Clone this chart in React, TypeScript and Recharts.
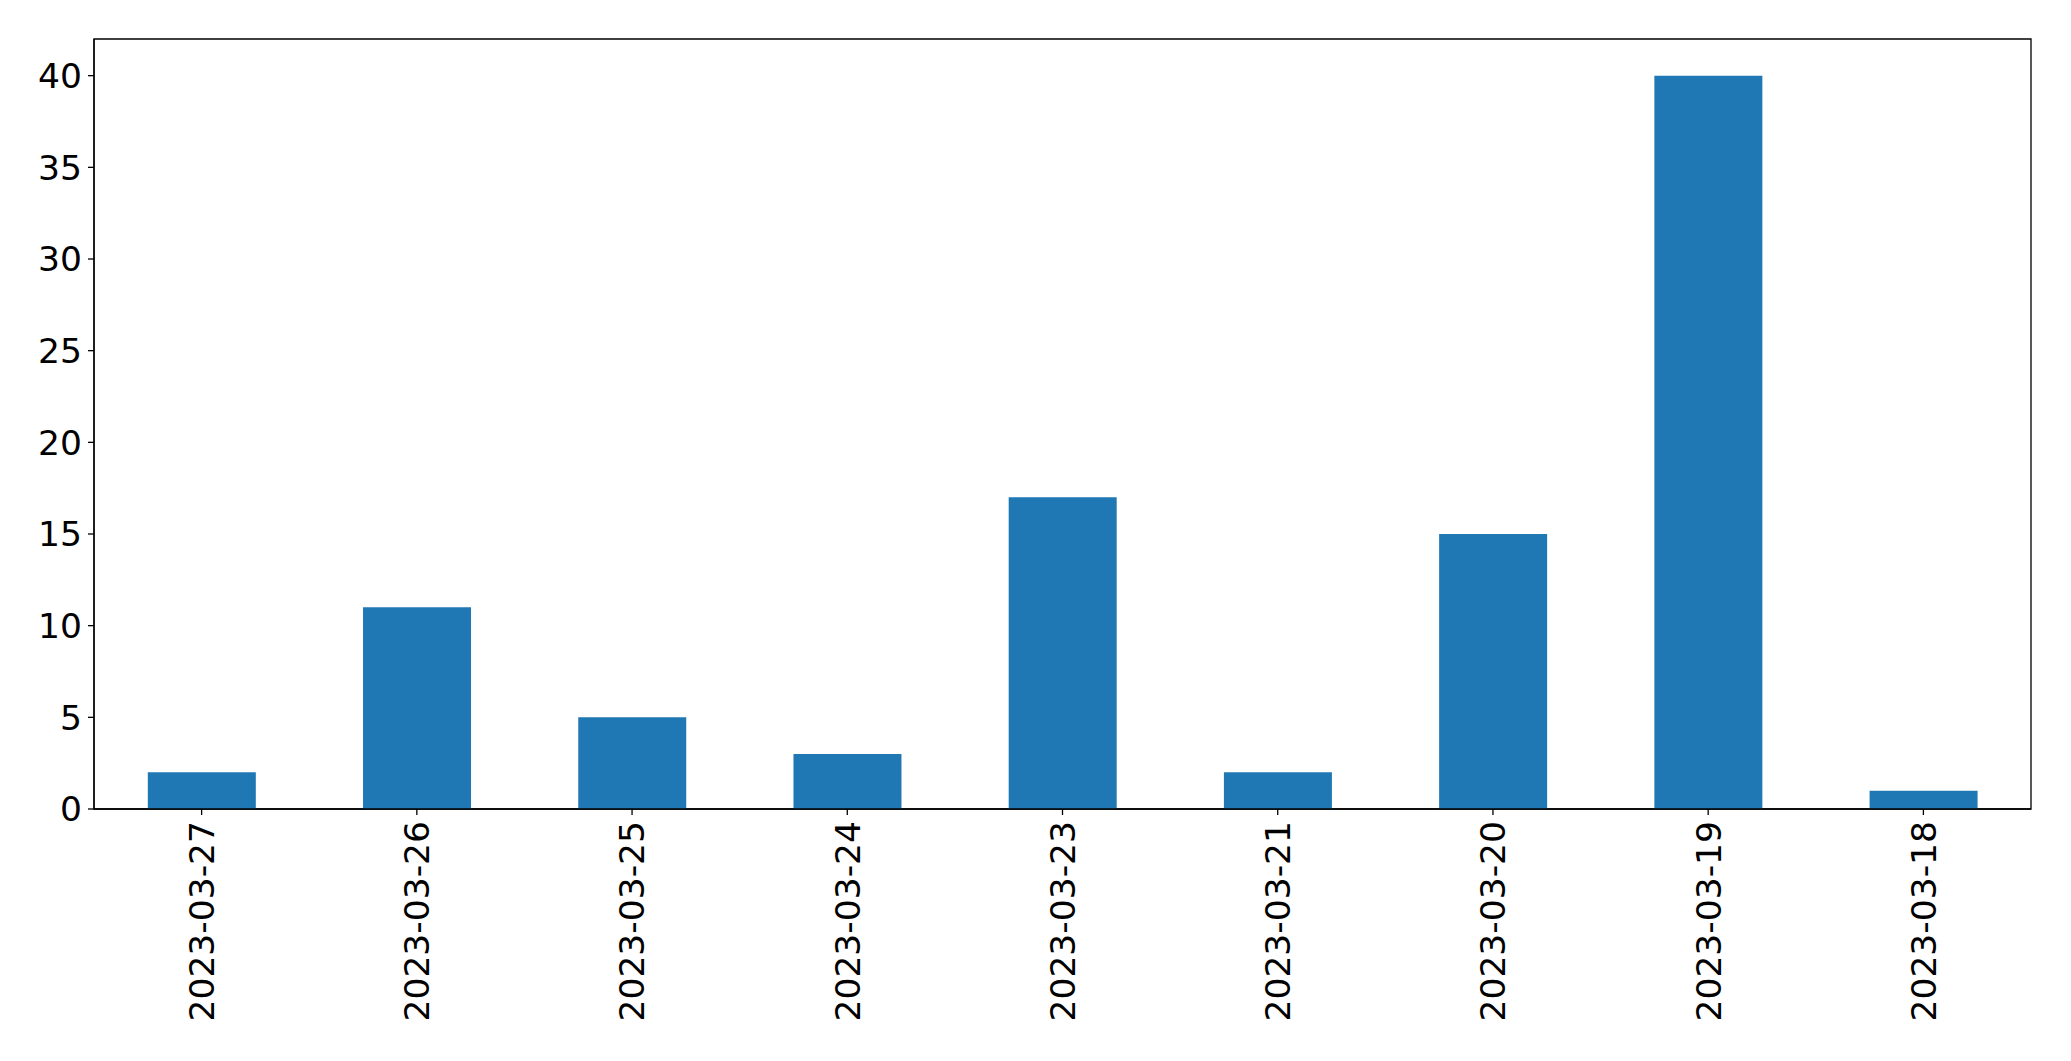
import React from 'react';
import { Bar, BarChart, ReferenceArea, XAxis, YAxis } from 'recharts';

const dates = [
  '2023-03-27',
  '2023-03-26',
  '2023-03-25',
  '2023-03-24',
  '2023-03-23',
  '2023-03-21',
  '2023-03-20',
  '2023-03-19',
  '2023-03-18',
];
const counts = [2, 11, 5, 3, 17, 2, 15, 40, 1];
const yTicks = [0, 5, 10, 15, 20, 25, 30, 35, 40];

const data = dates.map((date, i) => ({ date, count: counts[i] }));

const FONT = 'DejaVu Sans, sans-serif';
const FONT_SIZE = 34.5;

function DateTick({ x, y, payload }: any) {
  return (
    <g transform={`translate(${x},${y})`}>
      <text
        transform="rotate(-90)"
        x={-6}
        y={0}
        dy="0.36em"
        textAnchor="end"
        fill="#000"
        fontSize={FONT_SIZE}
        fontFamily={FONT}
      >
        {payload.value}
      </text>
    </g>
  );
}

export default function App() {
  return (
    <div style={{ position: 'absolute', left: 0, top: 0, background: '#fff' }}>
      <BarChart
        width={2071}
        height={1061}
        data={data}
        margin={{ left: 0, right: 40, top: 39, bottom: 2 }}
        barCategoryGap="25%"
      >
        <XAxis
          dataKey="date"
          height={250}
          interval={0}
          tick={<DateTick />}
          tickSize={6}
          tickMargin={0}
          tickLine={{ stroke: '#000', strokeWidth: 1.3 }}
          axisLine={{ stroke: '#000', strokeWidth: 1.3 }}
        />
        <YAxis
          width={94}
          domain={[0, 42]}
          ticks={yTicks}
          interval={0}
          tickSize={6}
          tickMargin={6}
          tick={{ fill: '#000', fontSize: FONT_SIZE, fontFamily: FONT }}
          tickLine={{ stroke: '#000', strokeWidth: 1.3 }}
          axisLine={{ stroke: '#000', strokeWidth: 1.3 }}
        />
        <Bar dataKey="count" fill="#1f77b4" isAnimationActive={false} />
        <ReferenceArea
          y1={0}
          y2={42}
          fill="none"
          fillOpacity={0}
          stroke="#000"
          strokeWidth={1.3}
          ifOverflow="visible"
        />
      </BarChart>
    </div>
  );
}
